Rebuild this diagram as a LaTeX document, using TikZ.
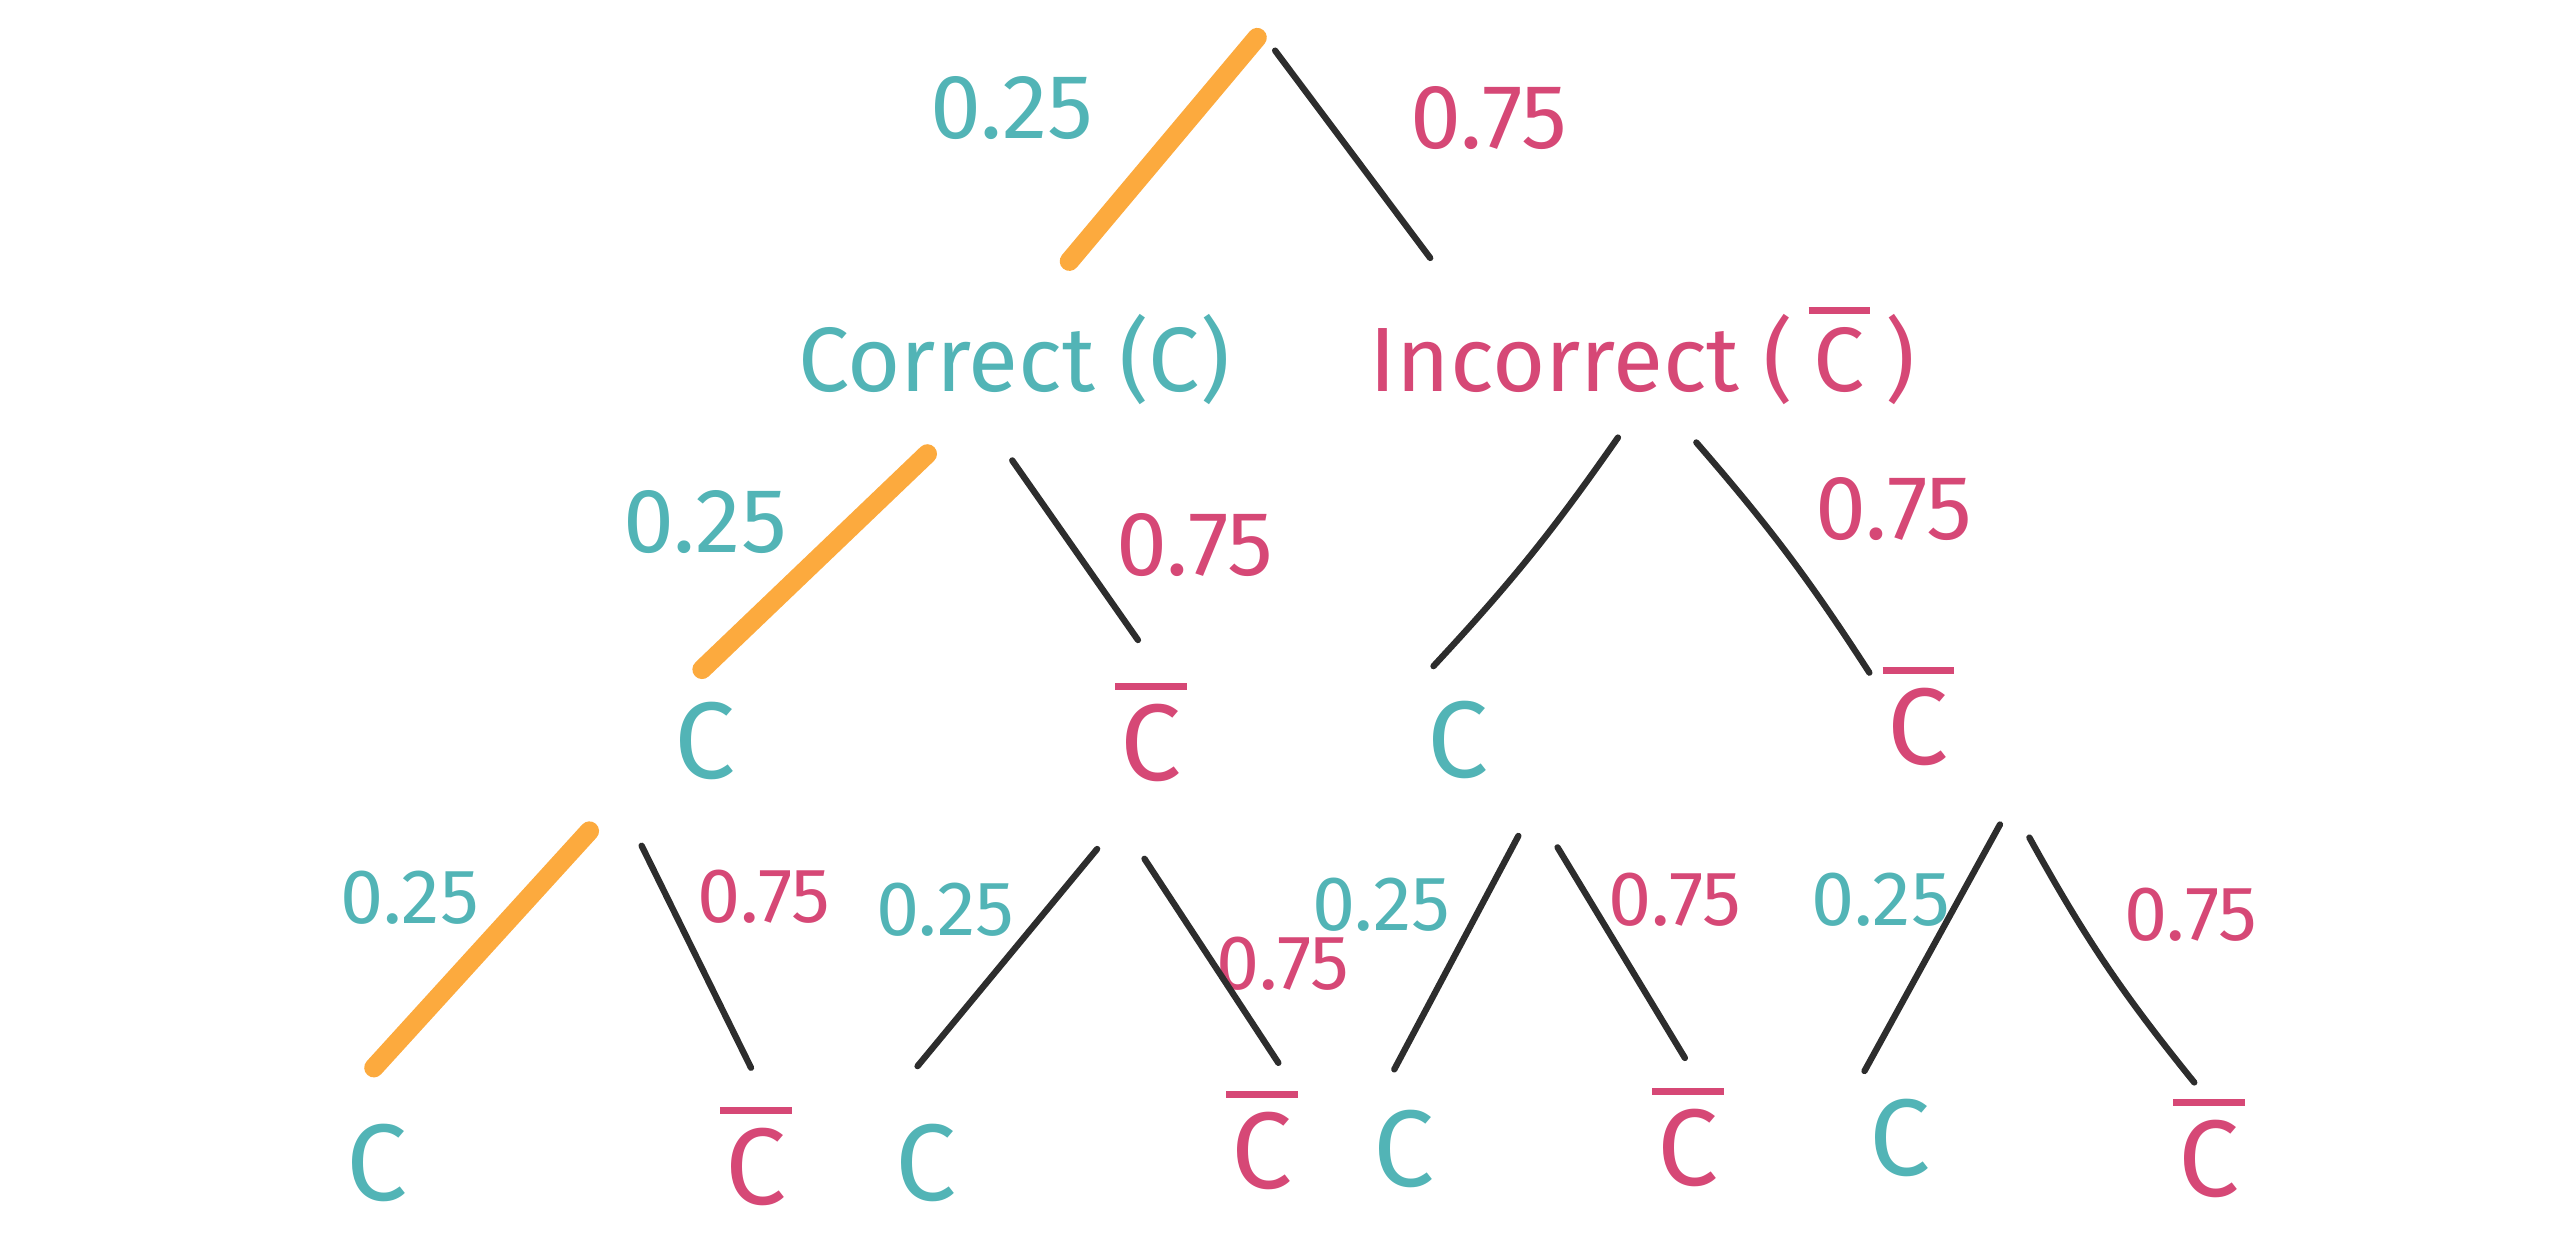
\documentclass[tikz,border=0pt]{standalone}
\usepackage{fontspec}
\setmainfont{Fira Sans}
\usepackage{xcolor}
\usepackage{tikz}
\usetikzlibrary{calc}
\definecolor{hitteal}   {RGB}{82,180,182}
\definecolor{misspink}  {RGB}{214,72,118}
\definecolor{pathorange}{RGB}{252,170,62}
\definecolor{inkgray}   {RGB}{45,45,45}
\newcommand{\overc}{\vbox{\hrule height 2pt\kern 4pt\hbox{\kern1.5pt C\kern1.5pt}}}
\tikzset{
  outcome/.style ={font=\fontsize{31}{35}\selectfont, inner sep=0pt, anchor=base},
  hitnode/.style ={outcome, text=hitteal},
  missnode/.style={outcome, text=misspink},
  headnode/.style={font=\fontsize{26}{30}\selectfont, inner sep=0pt, anchor=base},
  prob/.style    ={font=\fontsize{26}{30}\selectfont, inner sep=0pt},
  hitprob/.style ={prob, text=hitteal},
  missprob/.style={prob, text=misspink},
  sprob/.style   ={font=\fontsize{22}{26}\selectfont},
  branch/.style  ={draw=inkgray, line width=1.8pt, line cap=round},
  chosen/.style  ={draw=pathorange, line width=5.5pt, line cap=round},
}
\begin{document}
\begin{tikzpicture}[x=0.01633cm, y=-0.01633cm]
  \useasboundingbox (0,0) rectangle (1568,756);
  \coordinate (root) at (775,22);
  %% first split
  \node[hitprob]  (p1a) at (620,66) {0.25};
  \node[missprob] (p1b) at (912,72) {0.75};
  \node[headnode, text=hitteal]  (cor) at (621,240) {Correct (C)};
  \node[headnode, text=misspink] (inc) at (1006,240) {Incorrect (\,\overc\,)};
  \draw[chosen] ([shift={(-5,1)}]root) -- ([shift={(34,-80)}]cor.base);
  \draw[branch] ([shift={(6,9)}]root)  -- ([shift={(-130,-82)}]inc.base);
  %% second split
  \node[hitprob]  (p2a) at (432,320)  {0.25};
  \node[missprob] (p2b) at (732,334)  {0.75};
  \node[missprob] (p2d) at (1160,312) {0.75};
  \node[hitnode]  (ca) at (432,477)  {C};
  \node[missnode] (cb) at (705,478)  {\overc};
  \node[hitnode]  (cc) at (893,476)  {C};
  \node[missnode] (cd) at (1175,468) {\overc};
  \draw[chosen] ([shift={(-53,38)}]cor.base) -- ([shift={(-2,-67)}]ca.base);
  \draw[branch] ([shift={(-1,42)}]cor.base)  -- ([shift={(-8,-86)}]cb.base);
  \draw[branch] ([shift={(-15,28)}]inc.base) to[bend left=4] ([shift={(-15,-68)}]cc.base);
  \draw[branch] ([shift={(33,31)}]inc.base)  to[bend left=4] ([shift={(-30,-56)}]cd.base);
  %% third split
  \node[hitprob, sprob]  (p3a) at (251,550)  {0.25};
  \node[missprob, sprob] (p3b) at (468,549)  {0.75};
  \node[hitprob, sprob]  (p3c) at (579,557)  {0.25};
  \node[missprob, sprob] (p3d) at (786,590)  {0.75};
  \node[hitprob, sprob]  (p3e) at (846,554)  {0.25};
  \node[missprob, sprob] (p3f) at (1026,551) {0.75};
  \node[hitprob, sprob]  (p3g) at (1152,551) {0.25};
  \node[missprob, sprob] (p3h) at (1342,560) {0.75};
  \node[hitnode]  (da) at (231,735)  {C};
  \node[missnode] (db) at (463,738)  {\overc};
  \node[hitnode]  (dc) at (567,735)  {C};
  \node[missnode] (dd) at (773,728)  {\overc};
  \node[hitnode]  (de) at (860,727)  {C};
  \node[missnode] (df) at (1034,726) {\overc};
  \node[hitnode]  (dg) at (1164,720) {C};
  \node[missnode] (dh) at (1353,733) {\overc};
  \draw[chosen] ([shift={(-71,32)}]ca.base) -- ([shift={(-2,-81)}]da.base);
  \draw[branch] ([shift={(-39,41)}]ca.base) -- ([shift={(-3,-84)}]db.base);
  \draw[branch] ([shift={(-33,42)}]cb.base) -- ([shift={(-5,-82)}]dc.base);
  \draw[branch] ([shift={(-4,48)}]cb.base)  -- ([shift={(10,-77)}]dd.base);
  \draw[branch] ([shift={(37,36)}]cc.base)  -- ([shift={(-6,-72)}]de.base);
  \draw[branch] ([shift={(61,43)}]cc.base)  -- ([shift={(-2,-78)}]df.base);
  \draw[branch] ([shift={(50,37)}]cd.base)  -- ([shift={(-22,-64)}]dg.base);
  \draw[branch] ([shift={(68,45)}]cd.base)  to[bend right=5] ([shift={(-9,-70)}]dh.base);
\end{tikzpicture}
\end{document}
